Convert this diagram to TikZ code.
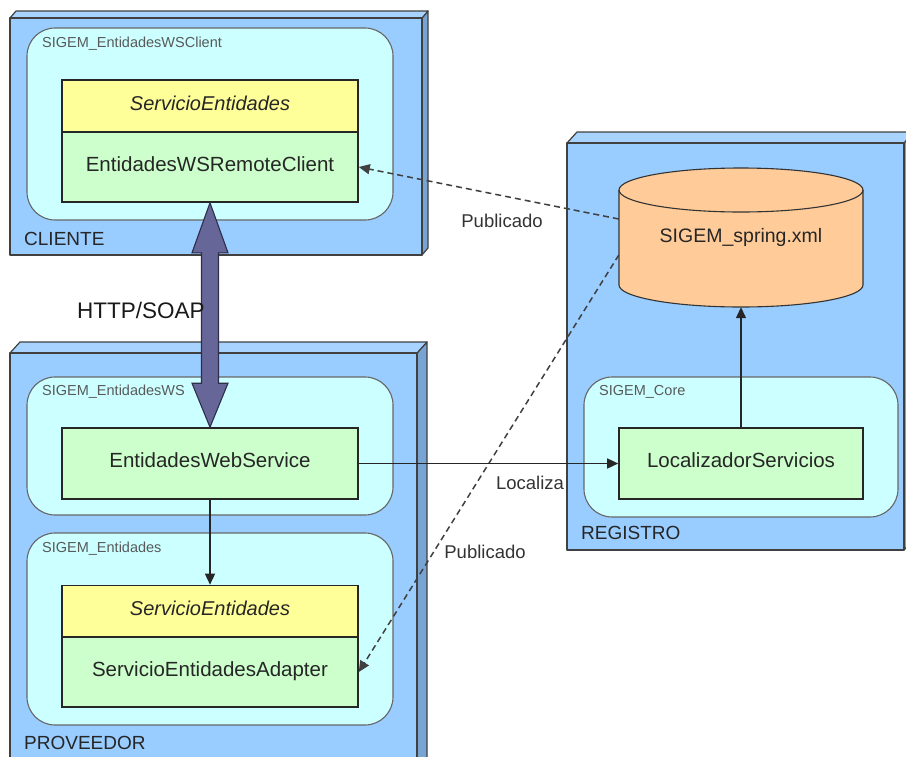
\documentclass[tikz,border=0pt]{standalone}
\usepackage{fontspec}
\setmainfont{Liberation Sans}
\usetikzlibrary{arrows.meta,calc}

\definecolor{nodeblue}{HTML}{99CCFF}
\definecolor{nodetop}{HTML}{A8D3FF}
\definecolor{nodeside}{HTML}{78A4D4}
\definecolor{pkgcyan}{HTML}{CCFFFF}
\definecolor{ifcyellow}{HTML}{FFFF99}
\definecolor{implgreen}{HTML}{CCFFCC}
\definecolor{dbpeach}{HTML}{FFCC99}
\definecolor{wirepurple}{HTML}{666699}
\definecolor{wireedge}{HTML}{2E2E4A}

\tikzset{
  fsize/.style={font=\fontsize{#1}{#1}\selectfont},
  boxedge/.style={draw=black!75, line width=1.2pt, line join=round},
  pkg/.style={draw=black!60, fill=pkgcyan, line width=1.1pt, rounded corners=28pt},
  comp/.style={draw=black!85, line width=1.6pt, inner sep=0pt, minimum width=296pt,
               text=black!85, fsize=20.5, text depth=6pt},
  ifc/.style={comp, fill=ifcyellow, minimum height=52pt, font=\fontsize{20}{20}\selectfont\itshape},
  impl/.style={comp, fill=implgreen, minimum height=70pt},
  pkglabel/.style={anchor=west, inner sep=0pt, text=black!65, fsize=14.5},
  nodelabel/.style={anchor=west, inner sep=0pt, text=black!85, fsize=19},
  edgelabel/.style={inner sep=0pt, text=black!80, fsize=18.5},
  link/.style={draw=black!85, line width=1.4pt, -{Triangle[length=11pt,width=10pt]}},
  publink/.style={link, draw=black!75, line width=1.5pt, dash pattern=on 6pt off 4pt}
}

% 3D node box: left, top, right, bottom, depth x, depth y
\newcommand{\deploybox}[6]{%
  \path[boxedge, fill=nodeside] (#3,#2) -- ({#3+#5},{#2-#6}) -- ({#3+#5},{#4-#6}) -- (#3,#4) -- cycle;
  \path[boxedge, fill=nodetop] (#1,#2) -- ({#1+#5},{#2-#6}) -- ({#3+#5},{#2-#6}) -- (#3,#2) -- cycle;
  \path[boxedge, fill=nodeblue] (#1,#2) rectangle (#3,#4);
}

\begin{document}
\begin{tikzpicture}[x=1pt,y=-1pt]
\useasboundingbox (0,0) rectangle (906,756);

% deployment nodes
\deploybox{10}{18}{422}{255}{6}{7}
\deploybox{10}{353}{417}{770}{10}{11}
\deploybox{567}{143}{904}{550}{10}{11}

% packages
\path[pkg] (27,28) rectangle (393,220);
\path[pkg] (27,377) rectangle (393,515);
\path[pkg] (27,533) rectangle (393,725);
\path[pkg] (584,377) rectangle (898,517);

\node[pkglabel] (pkgclient) at (42,44) {SIGEM\_EntidadesWSClient};
\node[pkglabel] (pkgws) at (42,392) {SIGEM\_EntidadesWS};
\node[pkglabel] (pkgent) at (42,549) {SIGEM\_Entidades};
\node[pkglabel] (pkgcore) at (599,392) {SIGEM\_Core};

\node[nodelabel] (lblcliente) at (24,239) {CLIENTE};
\node[nodelabel] (lblproveedor) at (24,743) {PROVEEDOR};
\node[nodelabel] (lblregistro) at (581,533) {REGISTRO};

% components
\node[ifc] (ifc1) at (210,106) {ServicioEntidades};
\node[impl] (rc) at (210,167) {EntidadesWSRemoteClient};
\node[impl, minimum height=71pt] (ws) at (210,463.5) {EntidadesWebService};
\node[ifc] (ifc2) at (210,611.5) {ServicioEntidades};
\node[impl] (adapter) at (210,672) {ServicioEntidadesAdapter};
\node[impl, minimum width=244pt, minimum height=71pt] (loc) at (741,463.5) {LocalizadorServicios};

% configuration store
\path[draw=black!80, line width=1.1pt, fill=dbpeach]
  (619,190) -- (619,285) arc (180:360:122pt and 22pt) -- (863,190) arc (0:180:122pt and 22pt) -- cycle;
\draw[black!80, line width=1.1pt] (619,190) arc (180:360:122pt and 22pt);
\node[inner sep=0pt, minimum width=244pt, minimum height=139pt, text=black!85, fsize=19.5] (spring) at (741,237.5) {SIGEM\_spring.xml};

% connectors
\draw[publink] ([yshift=18.5pt]spring.west) -- (rc.east);
\draw[publink] ([yshift=-17.5pt]spring.west) -- (adapter.east);
\draw[link] (ws.east) -- (loc.west);
\draw[link] (ws.south) -- (ifc2.north);
\draw[link] (loc.north) -- (spring.south);

\node[edgelabel] (pub1) at (502,221) {Publicado};
\node[edgelabel] (pub2) at (485,552) {Publicado};
\node[edgelabel] (localiza) at (530,483) {Localiza};

% HTTP/SOAP channel
\path[draw=wireedge, fill=wirepurple, line width=1.1pt, line join=miter]
  let \p1=(rc.south), \p2=(ws.north) in
  (\p1) -- (\x1+18pt,\y1-50pt) -- (\x1+8.5pt,\y1-50pt) -- (\x2+8.5pt,\y2+44pt)
  -- (\x2+18pt,\y2+44pt) -- (\p2) -- (\x2-18pt,\y2+44pt) -- (\x2-8.5pt,\y2+44pt)
  -- (\x1-8.5pt,\y1-50pt) -- (\x1-18pt,\y1-50pt) -- cycle;
\node[anchor=west, inner sep=0pt, text=black!90, fsize=22.5] (soap) at (77,310) {HTTP/SOAP};

\end{tikzpicture}
\end{document}
